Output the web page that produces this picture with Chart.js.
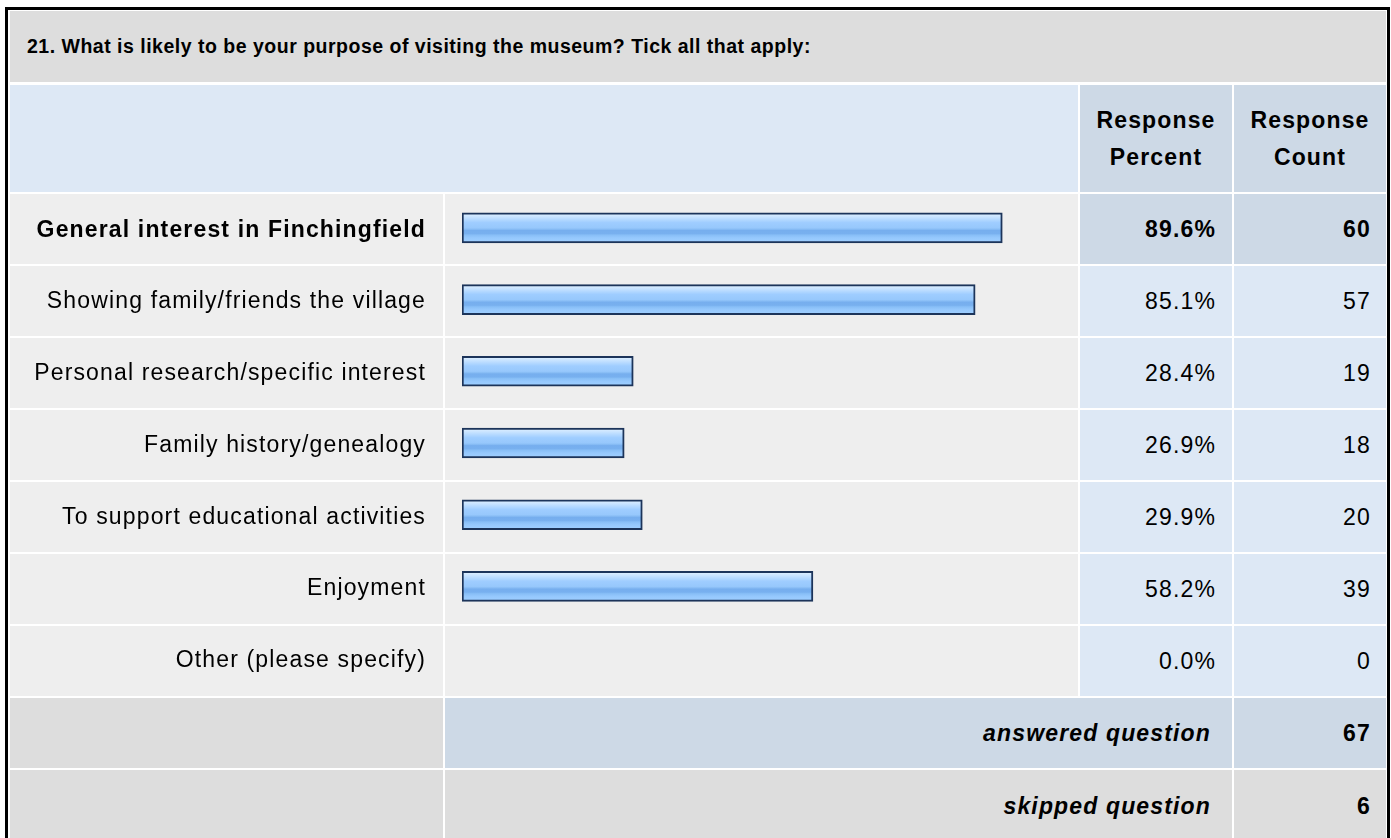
<!DOCTYPE html>
<html>
<head>
<meta charset="utf-8">
<title>Purpose of visiting the museum</title>
<script src="https://cdn.jsdelivr.net/npm/chart.js@4.4.1/dist/chart.umd.min.js"></script>
<style>
  html, body { margin: 0; padding: 0; background: #fff; overflow: hidden; }
  body { width: 1391px; height: 838px; position: relative; font-family: "Liberation Sans", Arial, sans-serif; color: #000; }
  #frame { position: absolute; left: 5px; top: 7px; width: 1385px; height: 900px; box-sizing: border-box; border: 3px solid #000; }
  .cell { position: absolute; box-sizing: border-box; font-size: 23px; letter-spacing: 1.15px; display: flex; align-items: center; }
  .grey { background: #dddddd; }
  .pale { background: #eeeeee; }
  .blue { background: #dde8f5; }
  .dblue { background: #cdd9e6; }
  .right { justify-content: flex-end; }
  .center { justify-content: center; text-align: center; }
  .b { font-weight: bold; }
  .bi { font-weight: bold; font-style: italic; }
  #title { font-size: 19.5px; font-weight: bold; letter-spacing: 0.5px; padding-left: 17px; }
  .hdr { line-height: 37px; font-weight: bold; }
  #barCanvas { position: absolute; left: 10px; top: 192px; }
</style>
</head>
<body>
<div id="frame"></div>
<div id="cells"></div>
<canvas id="barCanvas" width="1068" height="502"></canvas>
<script>
// Survey question and answer options
const questionTitle = '21. What is likely to be your purpose of visiting the museum? Tick all that apply:';
const categories = [
  'General interest in Finchingfield',
  'Showing family/friends the village',
  'Personal research/specific interest',
  'Family history/genealogy',
  'To support educational activities',
  'Enjoyment',
  'Other (please specify)'
];
// Response percent and response count per option
const responsePercent = [89.6, 85.1, 28.4, 26.9, 29.9, 58.2, 0.0];
const responseCount = [60, 57, 19, 18, 20, 39, 0];
const columnHeaders = ['Response<br>Percent', 'Response<br>Count'];
const answeredQuestion = 67;
const skippedQuestion = 6;

// Table grid (page pixels)
const colA = [10, 443], colB = [445, 1078], colC = [1080, 1232], colD = [1234, 1386];
const rowTop0 = 194, rowPitch = 72, rowH = 70;

const cells = document.getElementById('cells');
function cell(x0, x1, y0, h, cls, html, padR, padTop) {
  const d = document.createElement('div');
  d.className = 'cell ' + cls;
  d.style.left = x0 + 'px';
  d.style.width = (x1 - x0) + 'px';
  d.style.top = y0 + 'px';
  d.style.height = h + 'px';
  if (padR !== undefined) d.style.paddingRight = padR + 'px';
  if (padTop !== undefined) { d.style.alignItems = 'flex-start'; d.style.paddingTop = padTop + 'px'; }
  if (html !== undefined) d.innerHTML = html;
  cells.appendChild(d);
  return d;
}

// Title row
const t = cell(10, 1386, 11, 71, 'grey', questionTitle);
t.id = 'title';
// Column header row
cell(colA[0], colB[1], 85, 107, 'blue');
cell(colC[0], colC[1], 85, 107, 'dblue center hdr', columnHeaders[0]);
cell(colD[0], colD[1], 85, 107, 'dblue center hdr', columnHeaders[1]);

// Answer rows (labels and bars are drawn on the chart canvas above the pale cells)
categories.forEach((c, i) => {
  const y = rowTop0 + i * rowPitch;
  const top = i === 0;
  cell(colA[0], colA[1], y, rowH, 'pale');
  cell(colB[0], colB[1], y, rowH, 'pale');
  cell(colC[0], colC[1], y, rowH, (top ? 'dblue b' : 'blue') + ' right', responsePercent[i].toFixed(1) + '%', 16);
  cell(colD[0], colD[1], y, rowH, (top ? 'dblue b' : 'blue') + ' right', String(responseCount[i]), 15);
});

// Summary rows
const yAns = rowTop0 + categories.length * rowPitch;
cell(colA[0], colA[1], yAns, rowH, 'grey');
cell(colB[0], colC[1], yAns, rowH, 'dblue right bi', 'answered question', 21);
cell(colD[0], colD[1], yAns, rowH, 'dblue right b', String(answeredQuestion), 15);
const ySkip = yAns + rowPitch;
cell(colA[0], colA[1], ySkip, 120, 'grey');
cell(colB[0], colC[1], ySkip, 120, 'grey right bi', 'skipped question', 21, 23);
cell(colD[0], colD[1], ySkip, 120, 'grey right b', String(skippedQuestion), 15, 23);

// Glossy striped fill for each bar
function barFill(ctx) {
  const chart = ctx.chart;
  const ys = chart.scales && chart.scales.y;
  if (!ys || ctx.type !== 'data') return '#99ccff';
  const cy = ys.getPixelForValue(ctx.dataIndex);
  if (!isFinite(cy)) return '#99ccff';
  const g = chart.ctx.createLinearGradient(0, cy - 13, 0, cy + 13);
  g.addColorStop(0.00, '#d6ebff');
  g.addColorStop(0.10, '#c4e1ff');
  g.addColorStop(0.20, '#b1d7ff');
  g.addColorStop(0.30, '#9fcdff');
  g.addColorStop(0.50, '#97c8fc');
  g.addColorStop(0.56, '#86bbf4');
  g.addColorStop(0.60, '#76aeee');
  g.addColorStop(0.72, '#78b0ef');
  g.addColorStop(0.78, '#88bff7');
  g.addColorStop(0.88, '#95c8fd');
  g.addColorStop(1.00, '#9ccdff');
  return g;
}

const spacingPlugin = {
  id: 'labelSpacing',
  beforeDraw(chart) { chart.ctx.letterSpacing = '1.15px'; }
};

new Chart(document.getElementById('barCanvas'), {
  type: 'bar',
  data: {
    labels: categories,
    datasets: [{
      data: responsePercent,
      backgroundColor: barFill,
      borderColor: '#1c345a',
      borderWidth: 2,
      borderSkipped: false,
      barThickness: 30
    }]
  },
  plugins: [spacingPlugin],
  options: {
    indexAxis: 'y',
    responsive: false,
    animation: false,
    devicePixelRatio: 1,
    layout: { autoPadding: false, padding: { left: 0, right: 13, top: 0, bottom: 0 } },
    plugins: { legend: { display: false }, tooltip: { enabled: false } },
    scales: {
      x: { display: false, min: 0, max: 100 },
      y: {
        grid: { display: false },
        border: { display: false },
        afterFit(scale) {
          // fixed label column; rows fill the full canvas height
          scale.width = 452;
          scale.paddingTop = 0;
          scale.paddingBottom = 0;
        },
        ticks: {
          color: '#000',
          padding: 28,
          labelOffset: 2.5,
          font: (c) => ({ family: 'Liberation Sans', size: 23, weight: c.index === 0 ? 'bold' : 'normal' })
        }
      }
    }
  }
});
</script>
</body>
</html>
